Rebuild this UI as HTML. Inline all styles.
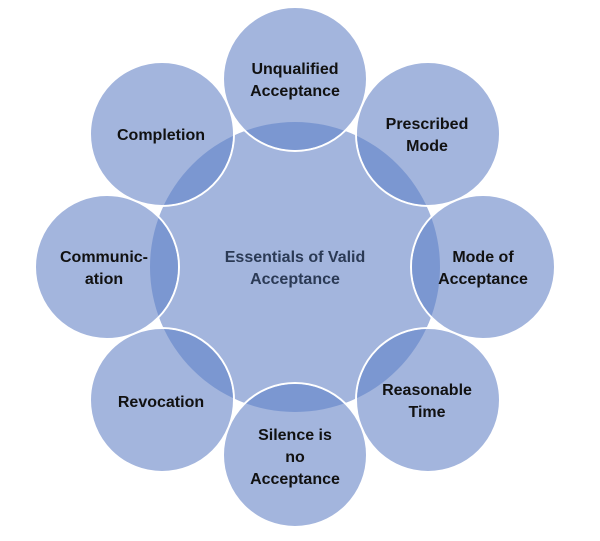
<!DOCTYPE html>
<html><head><style>
html,body{margin:0;padding:0;background:#fff;}
svg text{font-family:"Liberation Sans",sans-serif;font-weight:bold;font-size:16px;text-anchor:middle;}
</style></head><body>
<svg width="600" height="536" viewBox="0 0 600 536" xmlns="http://www.w3.org/2000/svg">
<defs>
<clipPath id="cc"><circle cx="295" cy="267" r="145"/></clipPath>
</defs>
<circle cx="295" cy="267" r="145" fill="#a3b5dd"/>
<g id="outer">
<circle cx="295" cy="79" r="72" fill="#a3b5dd" stroke="#fff" stroke-width="2"/>
<circle cx="428" cy="134" r="72" fill="#a3b5dd" stroke="#fff" stroke-width="2"/>
<circle cx="483" cy="267" r="72" fill="#a3b5dd" stroke="#fff" stroke-width="2"/>
<circle cx="428" cy="400" r="72" fill="#a3b5dd" stroke="#fff" stroke-width="2"/>
<circle cx="295" cy="455" r="72" fill="#a3b5dd" stroke="#fff" stroke-width="2"/>
<circle cx="162" cy="400" r="72" fill="#a3b5dd" stroke="#fff" stroke-width="2"/>
<circle cx="107" cy="267" r="72" fill="#a3b5dd" stroke="#fff" stroke-width="2"/>
<circle cx="162" cy="134" r="72" fill="#a3b5dd" stroke="#fff" stroke-width="2"/>
</g>
<g clip-path="url(#cc)" fill="#7b97d1">
<circle cx="295" cy="79" r="71"/>
<circle cx="428" cy="134" r="71"/>
<circle cx="483" cy="267" r="71"/>
<circle cx="428" cy="400" r="71"/>
<circle cx="295" cy="455" r="71"/>
<circle cx="162" cy="400" r="71"/>
<circle cx="107" cy="267" r="71"/>
<circle cx="162" cy="134" r="71"/>
</g>
<g fill="#111">
<text x="295" y="74">Unqualified</text><text x="295" y="96">Acceptance</text>
<text x="427" y="129">Prescribed</text><text x="427" y="151">Mode</text>
<text x="483" y="262">Mode of</text><text x="483" y="284">Acceptance</text>
<text x="427" y="395">Reasonable</text><text x="427" y="417">Time</text>
<text x="295" y="440">Silence is</text><text x="295" y="462">no</text><text x="295" y="484">Acceptance</text>
<text x="161" y="407">Revocation</text>
<text x="104" y="262">Communic-</text><text x="104" y="284">ation</text>
<text x="161" y="140">Completion</text>
</g>
<g fill="#2b3a55" style="font-weight:normal">
<text x="295" y="262">Essentials of Valid</text><text x="295" y="284">Acceptance</text>
</g>
</svg>
</body></html>
